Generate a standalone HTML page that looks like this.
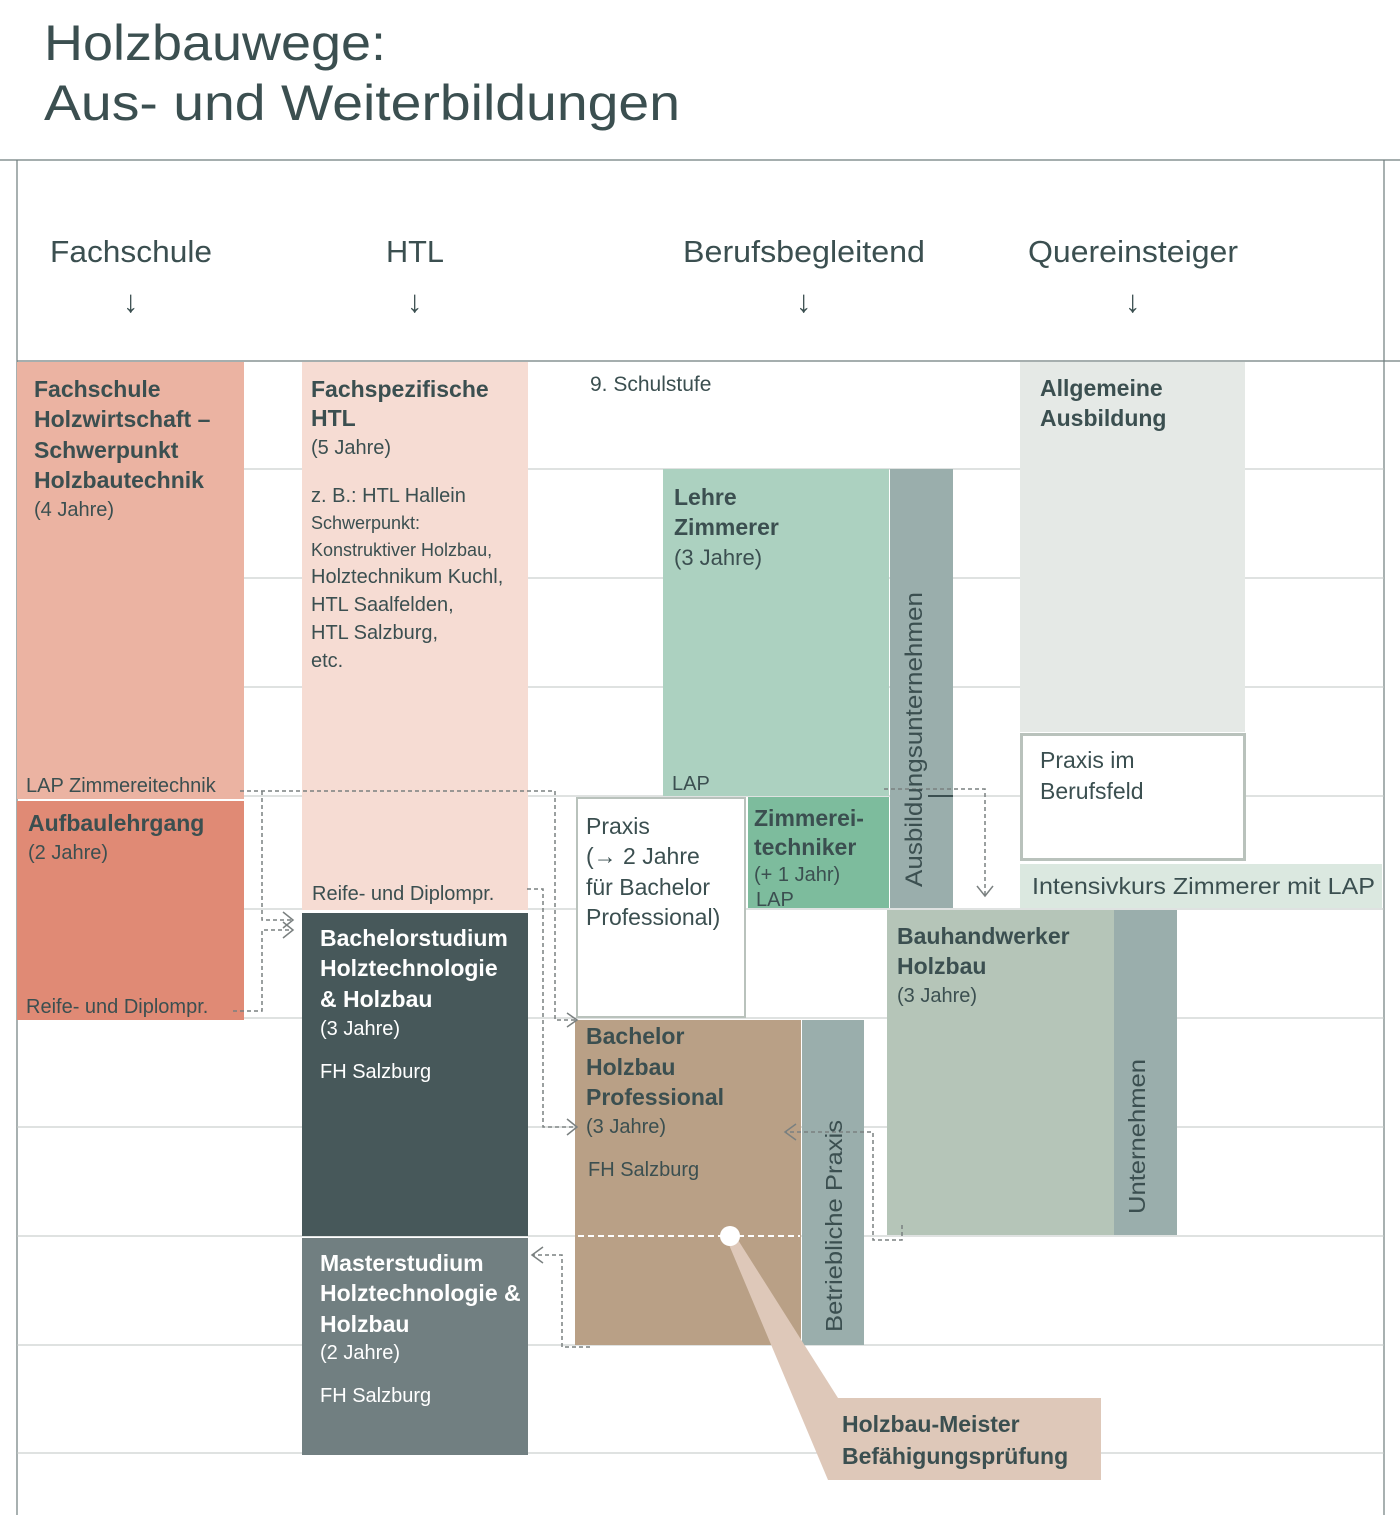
<!DOCTYPE html>
<html><head><meta charset="utf-8"><style>
html,body{margin:0;padding:0;background:#fff;}
svg{display:block;}
text{font-family:"Liberation Sans",sans-serif;fill:#3b4f50;}
.h{font-size:23px;font-weight:bold;}
.s{font-size:20px;}
.w{fill:#fff;}
.d{fill:none;stroke:#7a8080;stroke-width:1.5;stroke-dasharray:4 3;}
.a{fill:none;stroke:#7a8080;stroke-width:1.5;}
</style></head><body>
<svg width="1400" height="1515" viewBox="0 0 1400 1515" xmlns="http://www.w3.org/2000/svg">
<text x="44" y="60" style="font-size:50px" textLength="342" lengthAdjust="spacingAndGlyphs">Holzbauwege:</text>
<text x="44" y="120" style="font-size:50px" textLength="636" lengthAdjust="spacingAndGlyphs">Aus- und Weiterbildungen</text>
<!-- frame -->
<g stroke="#6f7d7d" stroke-width="1.2">
<line x1="0" y1="160" x2="1400" y2="160"/>
<line x1="17" y1="160" x2="17" y2="1515"/>
<line x1="1384" y1="160" x2="1384" y2="1515"/>
<line x1="17" y1="361" x2="1400" y2="361"/>
</g>
<g stroke="#bfc5c3" stroke-width="1">
<line x1="17" y1="469" x2="1384" y2="469"/>
<line x1="17" y1="578" x2="1384" y2="578"/>
<line x1="17" y1="687" x2="1384" y2="687"/>
<line x1="17" y1="796" x2="1384" y2="796"/>
<line x1="17" y1="909" x2="1384" y2="909"/>
<line x1="17" y1="1018" x2="1384" y2="1018"/>
<line x1="17" y1="1127" x2="1384" y2="1127"/>
<line x1="17" y1="1236" x2="1384" y2="1236"/>
<line x1="17" y1="1345" x2="1384" y2="1345"/>
<line x1="17" y1="1453" x2="1384" y2="1453"/>
</g>
<g style="font-size:31px">
<text x="50" y="262" textLength="162" lengthAdjust="spacingAndGlyphs">Fachschule</text>
<text x="386" y="262" textLength="58" lengthAdjust="spacingAndGlyphs">HTL</text>
<text x="683" y="262" textLength="242" lengthAdjust="spacingAndGlyphs">Berufsbegleitend</text>
<text x="1028" y="262" textLength="210" lengthAdjust="spacingAndGlyphs">Quereinsteiger</text>
<text x="123" y="312">↓</text>
<text x="407" y="312">↓</text>
<text x="796" y="312">↓</text>
<text x="1125" y="312">↓</text>
</g>
<!-- boxes -->
<rect x="17" y="362" width="227" height="437" fill="#ebb3a2"/>
<rect x="17" y="801" width="227" height="219" fill="#e08a75"/>
<rect x="302" y="362" width="226" height="548" fill="#f6dcd3"/>
<rect x="302" y="913" width="226" height="323" fill="#47585a"/>
<rect x="302" y="1238" width="226" height="217" fill="#717f81"/>
<rect x="663" y="469" width="226" height="327" fill="#acd1c0"/>
<rect x="890" y="469" width="63" height="439" fill="#9aaeac"/>
<rect x="748" y="797" width="141" height="111" fill="#7dbc9d"/>
<rect x="577" y="798" width="168" height="219" fill="#fff" stroke="#b9c2bc" stroke-width="2"/>
<rect x="575" y="1020" width="226" height="325" fill="#b9a086"/>
<rect x="802" y="1020" width="62" height="325" fill="#9aaeac"/>
<rect x="1020" y="362" width="225" height="370" fill="#e5e9e6"/>
<rect x="1021.5" y="734.5" width="223" height="125" fill="#fff" stroke="#b9c2bc" stroke-width="3"/>
<rect x="1020" y="864" width="362" height="44" fill="#dbe8e0"/>
<rect x="887" y="910" width="227" height="325" fill="#b5c5b8"/>
<rect x="1114" y="910" width="63" height="325" fill="#9aaeac"/>
<rect x="828" y="1398" width="273" height="82" fill="#dec8b9"/>
<polygon points="727,1240 738,1240 838,1398 828,1480" fill="#dec8b9"/>
<line x1="578" y1="1236" x2="800" y2="1236" stroke="#fff" stroke-width="2" stroke-dasharray="6 4"/>
<circle cx="730" cy="1236" r="10" fill="#fff"/>
<!-- connectors -->
<path class="d" d="M240 791 H555 V1020 H575"/>
<path class="a" d="M567 1013 L577 1020 L567 1027"/>
<path class="d" d="M262 791 V920 H292"/>
<path class="a" d="M283 912 L293 920 L283 928"/>
<path class="d" d="M233 1011 H262 V930 H292"/>
<path class="a" d="M283 922 L293 930 L283 938"/>
<path class="d" d="M527 889 H543 V1127 H576"/>
<path class="a" d="M567 1119 L577 1127 L567 1135"/>
<path class="d" d="M884 789 H985 V895"/>
<path class="a" d="M977 886 L985 896 L993 886"/>
<path class="d" d="M902 1225 V1240 H873 V1132 H786"/>
<path class="a" d="M796 1124 L785 1132 L796 1140"/>
<path class="d" d="M590 1347 H562 V1255 H533"/>
<path class="a" d="M543 1247 L532 1255 L543 1263"/>
<line x1="928" y1="796" x2="953" y2="796" stroke="#3b4f50" stroke-width="2"/>
<!-- texts -->
<text class="h" x="34" y="397">Fachschule</text>
<text class="h" x="34" y="427">Holzwirtschaft –</text>
<text class="h" x="34" y="458">Schwerpunkt</text>
<text class="h" x="34" y="488">Holzbautechnik</text>
<text class="s" x="34" y="516">(4 Jahre)</text>
<text class="s" x="26" y="792">LAP Zimmereitechnik</text>
<text class="h" x="28" y="831">Aufbaulehrgang</text>
<text class="s" x="28" y="859">(2 Jahre)</text>
<text class="s" x="26" y="1013">Reife- und Diplompr.</text>
<text class="h" x="311" y="397">Fachspezifische</text>
<text class="h" x="311" y="426">HTL</text>
<text class="s" x="311" y="454">(5 Jahre)</text>
<text class="s" x="311" y="502">z. B.: HTL Hallein</text>
<text style="font-size:18px" x="311" y="529">Schwerpunkt:</text>
<text style="font-size:18px" x="311" y="556">Konstruktiver Holzbau,</text>
<text class="s" x="311" y="583">Holztechnikum Kuchl,</text>
<text class="s" x="311" y="611">HTL Saalfelden,</text>
<text class="s" x="311" y="639">HTL Salzburg,</text>
<text class="s" x="311" y="667">etc.</text>
<text class="s" x="312" y="900">Reife- und Diplompr.</text>
<text class="h w" x="320" y="946">Bachelorstudium</text>
<text class="h w" x="320" y="976">Holztechnologie</text>
<text class="h w" x="320" y="1007">&amp; Holzbau</text>
<text class="s w" x="320" y="1035">(3 Jahre)</text>
<text class="s w" x="320" y="1078">FH Salzburg</text>
<text class="h w" x="320" y="1271">Masterstudium</text>
<text class="h w" x="320" y="1301">Holztechnologie &amp;</text>
<text class="h w" x="320" y="1332">Holzbau</text>
<text class="s w" x="320" y="1359">(2 Jahre)</text>
<text class="s w" x="320" y="1402">FH Salzburg</text>
<text class="s" x="590" y="391" style="font-size:21px">9. Schulstufe</text>
<text class="h" x="674" y="505">Lehre</text>
<text class="h" x="674" y="535">Zimmerer</text>
<text class="s" x="674" y="565" style="font-size:22px">(3 Jahre)</text>
<text class="s" x="672" y="790">LAP</text>
<text class="h" x="754" y="826">Zimmerei-</text>
<text class="h" x="754" y="855">techniker</text>
<text class="s" x="754" y="881">(+ 1 Jahr)</text>
<text class="s" x="756" y="906">LAP</text>
<text x="0" y="0" transform="translate(922,887) rotate(-90)" style="font-size:24px" textLength="295" lengthAdjust="spacingAndGlyphs">Ausbildungsunternehmen</text>
<text style="font-size:23px" x="586" y="834">Praxis</text>
<text style="font-size:23px" x="586" y="864">(→ 2 Jahre</text>
<text style="font-size:23px" x="586" y="895">für Bachelor</text>
<text style="font-size:23px" x="586" y="925">Professional)</text>
<text class="h" x="586" y="1044">Bachelor</text>
<text class="h" x="586" y="1075">Holzbau</text>
<text class="h" x="586" y="1105">Professional</text>
<text class="s" x="586" y="1133">(3 Jahre)</text>
<text class="s" x="588" y="1176">FH Salzburg</text>
<text x="0" y="0" transform="translate(842,1332) rotate(-90)" style="font-size:23px" textLength="212" lengthAdjust="spacingAndGlyphs">Betriebliche Praxis</text>
<text class="h" x="1040" y="396">Allgemeine</text>
<text class="h" x="1040" y="426">Ausbildung</text>
<text style="font-size:23px" x="1040" y="768">Praxis im</text>
<text style="font-size:23px" x="1040" y="799">Berufsfeld</text>
<text style="font-size:23px" x="1032" y="894" textLength="343" lengthAdjust="spacingAndGlyphs">Intensivkurs Zimmerer mit LAP</text>
<text class="h" x="897" y="944">Bauhandwerker</text>
<text class="h" x="897" y="974">Holzbau</text>
<text class="s" x="897" y="1002">(3 Jahre)</text>
<text x="0" y="0" transform="translate(1145,1214) rotate(-90)" style="font-size:23px" textLength="155" lengthAdjust="spacingAndGlyphs">Unternehmen</text>
<text class="h" x="842" y="1432">Holzbau-Meister</text>
<text class="h" x="842" y="1464">Befähigungsprüfung</text>
</svg>
</body></html>
